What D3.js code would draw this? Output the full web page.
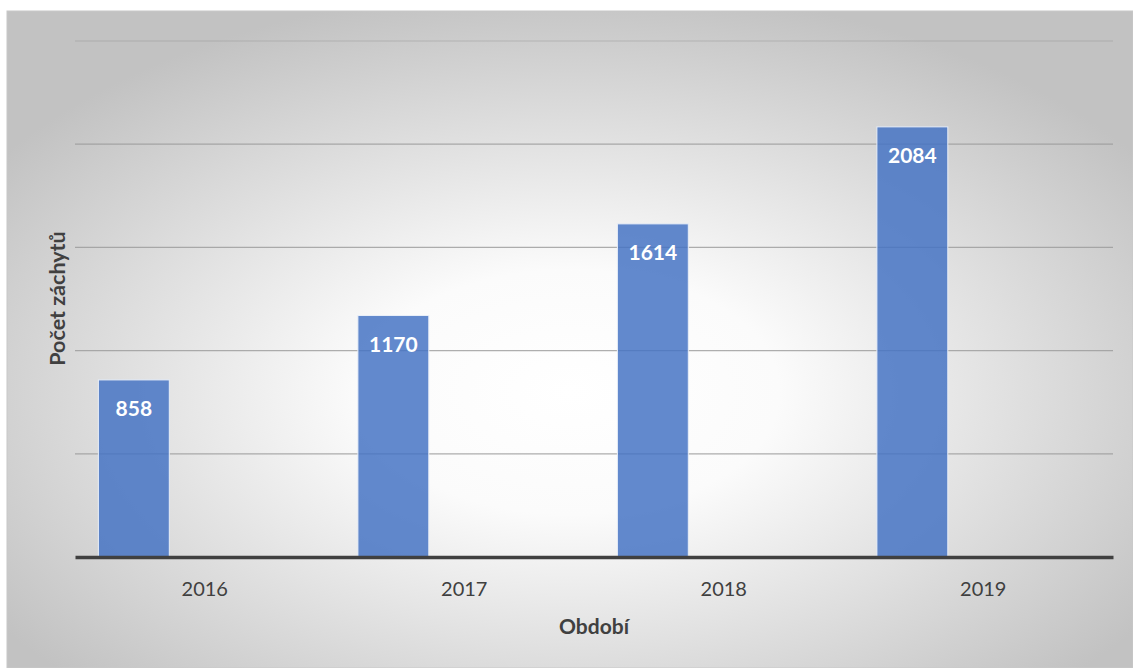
<!DOCTYPE html>
<html lang="cs">
<head>
<meta charset="UTF-8">
<title>Počet záchytů</title>
<style>
  body { margin: 0; background: #fff; }
  svg text { font-family: Lato, "Open Sans", sans-serif; }
</style>
</head>
<body>
<svg id="chart" width="1133" height="668"></svg>
<script src="https://cdn.jsdelivr.net/npm/d3@7"></script>
<script>
"use strict";

var years = ["2016", "2017", "2018", "2019"];
var series = ["zachyty", "s2", "s3"];
var values = [858, 1170, 1614, 2084];
var yTicks = [0, 500, 1000, 1500, 2000, 2500];

var svg = d3.select("#chart");
var W = 1133, H = 668;
var m = { left: 75, right: 20, top: 41, bottom: 111 };
var plotW = W - m.left - m.right;
var plotH = H - m.top - m.bottom;

var defs = svg.append("defs");
var grad = defs.append("radialGradient")
  .attr("id", "bg")
  .attr("cx", "50%").attr("cy", "58%").attr("r", "62%");
grad.append("stop").attr("offset", "0%").attr("stop-color", "#ffffff");
grad.append("stop").attr("offset", "30%").attr("stop-color", "#fbfbfb");
grad.append("stop").attr("offset", "100%").attr("stop-color", "#c2c2c2");

svg.append("rect")
  .attr("x", 7).attr("y", 11)
  .attr("width", W - 7).attr("height", H - 11)
  .attr("fill", "url(#bg)")
  .attr("stroke", "#c8c8c8").attr("stroke-width", 1);

var g = svg.append("g").attr("transform", "translate(" + m.left + "," + m.top + ")");

var x = d3.scaleBand().domain(years).range([0, plotW]);
var xs = d3.scaleBand().domain(series).range([0, x.bandwidth()]).paddingOuter(0.33);
var y = d3.scaleLinear().domain([0, 2500]).range([plotH, 0]);

// gridlines
g.selectAll(".grid")
  .data(yTicks.slice(1))
  .enter().append("line")
  .attr("x1", 0).attr("x2", plotW)
  .attr("y1", function(d) { return y(d); })
  .attr("y2", function(d) { return y(d); })
  .attr("stroke", "#9a9a9a")
  .attr("stroke-opacity", function(d) { return d === 2500 ? 0.35 : 0.8; })
  .attr("stroke-width", 1.3);

// bars
g.selectAll(".bar")
  .data(values)
  .enter().append("rect")
  .attr("x", function(d, i) { return x(years[i]) + xs("zachyty"); })
  .attr("y", function(d) { return y(d); })
  .attr("width", xs.bandwidth())
  .attr("height", function(d) { return plotH - y(d); })
  .attr("fill", "#4472c4")
  .attr("fill-opacity", 0.84)
  .attr("stroke", "#e8eef8")
  .attr("stroke-width", 1);

// value labels
g.selectAll(".val")
  .data(values)
  .enter().append("text")
  .attr("x", function(d, i) { return x(years[i]) + xs("zachyty") + xs.bandwidth() / 2; })
  .attr("y", function(d) { return y(d) + 36; })
  .attr("text-anchor", "middle")
  .attr("fill", "#ffffff")
  .attr("font-weight", "bold")
  .attr("font-size", "21px")
  .text(function(d) { return d; });

// x axis
var xAxis = g.append("g")
  .attr("transform", "translate(0," + plotH + ")")
  .call(d3.axisBottom(x).tickSize(0).tickPadding(25));
xAxis.select(".domain").attr("stroke", "#404040").attr("stroke-width", 3.5);
xAxis.selectAll("text")
  .attr("font-size", "20px")
  .attr("fill", "#404040")
  .style("font-family", "Lato, 'Open Sans', sans-serif");

// axis titles
svg.append("text")
  .attr("x", 594)
  .attr("y", 634)
  .attr("text-anchor", "middle")
  .attr("font-weight", "bold")
  .attr("font-size", "21px")
  .attr("fill", "#404040")
  .text("Období");

svg.append("text")
  .attr("transform", "translate(65," + (m.top + plotH / 2 - 0.5) + ") rotate(-90)")
  .attr("text-anchor", "middle")
  .attr("font-weight", "bold")
  .attr("font-size", "21.5px")
  .attr("fill", "#404040")
  .text("Počet záchytů");
</script>
</body>
</html>
